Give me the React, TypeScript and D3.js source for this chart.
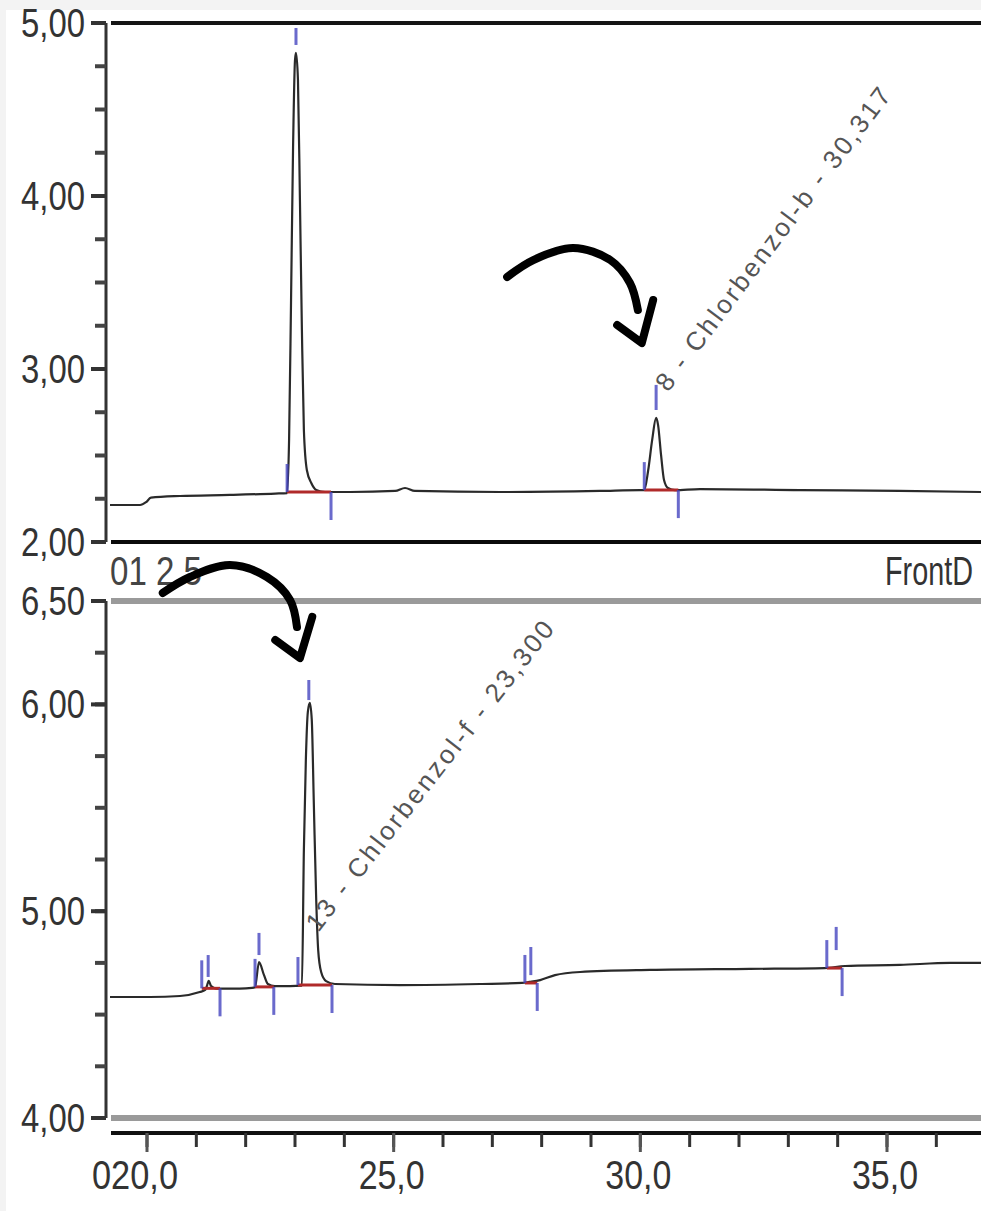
import React from 'react';
import * as d3 from 'd3';

const W = 981;
const H = 1211;

// upper run: retention time (min) and detector signal
const topTime = [19.25, 19.86, 19.98, 20.08, 20.67, 21.68, 22.6, 22.84, 22.88, 22.92, 22.96, 23.0, 23.02, 23.06, 23.1, 23.14, 23.18, 23.24, 23.33, 23.43, 23.61, 24.12, 25.03, 25.23, 25.43, 27.16, 29.18, 30.0, 30.08, 30.16, 30.24, 30.32, 30.36, 30.42, 30.48, 30.56, 30.7, 31.21, 33.24, 35.26, 36.91];
const topSignal = [2.214, 2.214, 2.23, 2.256, 2.266, 2.272, 2.28, 2.283, 2.59, 3.399, 4.266, 4.786, 4.827, 4.671, 3.977, 3.225, 2.647, 2.416, 2.341, 2.301, 2.289, 2.289, 2.295, 2.312, 2.295, 2.289, 2.295, 2.3, 2.3, 2.416, 2.59, 2.717, 2.676, 2.503, 2.358, 2.312, 2.3, 2.306, 2.3, 2.295, 2.289];

// lower run
const bottomTime = [19.25, 20.06, 20.67, 21.07, 21.18, 21.22, 21.25, 21.3, 21.4, 21.88, 22.13, 22.19, 22.27, 22.37, 22.45, 22.59, 22.9, 23.14, 23.18, 23.22, 23.26, 23.3, 23.34, 23.38, 23.43, 23.47, 23.53, 23.63, 23.81, 25.13, 26.75, 27.6, 27.75, 27.97, 28.27, 28.78, 30.2, 32.22, 33.74, 34.15, 35.26, 36.28, 36.91];
const bottomSignal = [4.585, 4.585, 4.59, 4.609, 4.619, 4.643, 4.663, 4.638, 4.626, 4.626, 4.629, 4.632, 4.754, 4.692, 4.648, 4.638, 4.638, 4.64, 5.296, 5.731, 5.963, 6.007, 5.925, 5.538, 5.054, 4.812, 4.706, 4.662, 4.648, 4.643, 4.648, 4.653, 4.658, 4.667, 4.691, 4.706, 4.716, 4.721, 4.725, 4.735, 4.74, 4.75, 4.75];

// integration marks
const topPeakStart = [22.84, 30.08];
const topPeakApex = [23.02, 30.32];
const topPeakEnd = [23.73, 30.77];
const topPeakBase = [2.289, 2.3];
const topApexLo = [4.873, 2.763];
const topApexHi = [4.971, 2.908];

const bottomPeakStart = [21.11, 22.19, 23.06, 27.66, 33.78];
const bottomPeakApex = [21.24, 22.27, 23.28, 27.78, 33.97];
const bottomPeakEnd = [21.48, 22.57, 23.75, 27.91, 34.09];
const bottomPeakBase = [4.627, 4.634, 4.643, 4.653, 4.725];
const bottomApexLo = [4.682, 4.788, 6.021, 4.691, 4.812];
const bottomApexHi = [4.788, 4.895, 6.118, 4.827, 4.924];

// peak names
const topLabel = '8 - Chlorbenzol-b - 30,317';
const topLabelAt = [30.56, 2.861];
const bottomLabel = '13 - Chlorbenzol-f - 23,300';
const bottomLabelAt = [23.47, 4.895];

// hand drawn arrows (time, signal)
const arrowTopShaft = [[27.3, 3.532], [27.83, 3.63], [28.64, 3.699], [29.39, 3.63], [29.79, 3.497], [29.95, 3.341]];
const arrowTopHead = [[29.53, 3.254], [30.03, 3.15], [30.26, 3.399]];
const arrowBottomShaft = [[20.32, 6.539], [20.87, 6.616], [21.68, 6.674], [22.43, 6.616], [22.9, 6.505], [23.04, 6.374]];
const arrowBottomHead = [[22.6, 6.311], [23.1, 6.224], [23.35, 6.423]];

// axes
const xMajor = [20, 25, 30, 35];
const xMajorLabels = ['020,0', '25,0', '30,0', '35,0'];
const xMinor = d3.range(20, 37);
const topYLabels = [5, 4, 3, 2];
const topYText = ['5,00', '4,00', '3,00', '2,00'];
const bottomYLabels = [6.5, 6, 5, 4];
const bottomYText = ['6,50', '6,00', '5,00', '4,00'];

const font = '"Liberation Sans", Arial, sans-serif';
const blue = '#4646c0';
const red = '#b02a2a';

const x = d3.scaleLinear().domain([20, 35]).range([147, 887]);
const yTop = d3.scaleLinear().domain([2, 5]).range([542, 23]);
const yBot = d3.scaleLinear().domain([4, 6.5]).range([1118, 601]);

const trace = (y: d3.ScaleLinear<number, number>) =>
  d3.line<number[]>().x(d => x(d[0])).y(d => y(d[1])).curve(d3.curveMonotoneX);
const arrowLine = (y: d3.ScaleLinear<number, number>) =>
  d3.line<number[]>().x(d => x(d[0])).y(d => y(d[1])).curve(d3.curveCatmullRom);

function Marks({ y, start, apex, end, base, lo, hi }: any) {
  return (
    <g>
      {start.map((s: number, i: number) => {
        const yb = y(base[i]);
        return (
          <g key={i}>
            <line x1={x(s)} x2={x(end[i])} y1={yb} y2={yb} stroke={red} strokeWidth={3} />
            <line x1={x(s)} x2={x(s)} y1={yb} y2={yb - 28} stroke={blue} strokeWidth={3} opacity={0.8} />
            <line x1={x(end[i])} x2={x(end[i])} y1={yb} y2={yb + 28} stroke={blue} strokeWidth={3} opacity={0.8} />
            <line x1={x(apex[i])} x2={x(apex[i])} y1={y(lo[i])} y2={y(hi[i])} stroke={blue} strokeWidth={3} opacity={0.8} />
          </g>
        );
      })}
    </g>
  );
}

function YAxis({ y, domain, labels, texts }: any) {
  const minor = d3.range(domain[0], domain[1] + 0.001, 0.25);
  return (
    <g>
      <line x1={106} x2={106} y1={y(domain[1])} y2={y(domain[0])} stroke="#333" strokeWidth={3} />
      {minor.map((v: number) => (
        <line key={v} x1={95} x2={106} y1={y(v)} y2={y(v)} stroke="#444" strokeWidth={4} />
      ))}
      {labels.map((v: number, i: number) => (
        <g key={v}>
          <line x1={91} x2={106} y1={y(v)} y2={y(v)} stroke="#333" strokeWidth={4} />
          <text x={85} y={y(v) + 14} textAnchor="end" fontSize={41} fontFamily={font} fill="#333"
            textLength={64} lengthAdjust="spacingAndGlyphs">{texts[i]}</text>
        </g>
      ))}
    </g>
  );
}

export default function App() {
  const topPts = topTime.map((t, i) => [t, topSignal[i]]);
  const botPts = bottomTime.map((t, i) => [t, bottomSignal[i]]);
  const axisY = 1133;

  return (
    <svg width={W} height={H} style={{ position: 'absolute', left: 0, top: 0 }}>
      <rect width={W} height={H} fill="#f3f3f3" />
      <rect x={6} y={10} width={W - 6} height={H - 10} fill="#fff" />

      {/* upper panel frame */}
      <line x1={111} x2={W} y1={yTop(5)} y2={yTop(5)} stroke="#151515" strokeWidth={4} />
      <line x1={111} x2={W} y1={yTop(2)} y2={yTop(2)} stroke="#0a0a0a" strokeWidth={4} />
      <YAxis y={yTop} domain={[2, 5]} labels={topYLabels} texts={topYText} />

      {/* lower panel frame */}
      <line x1={111} x2={W} y1={yBot(6.5)} y2={yBot(6.5)} stroke="#9a9a9a" strokeWidth={6} />
      <line x1={111} x2={W} y1={yBot(4)} y2={yBot(4)} stroke="#9a9a9a" strokeWidth={6} />
      <YAxis y={yBot} domain={[4, 6.5]} labels={bottomYLabels} texts={bottomYText} />

      <text x={110} y={585} fontSize={41} fontFamily={font} fill="#444" textLength={92} lengthAdjust="spacingAndGlyphs">01 2 5</text>
      <text x={885} y={585} fontSize={41} fontFamily={font} fill="#333" textLength={88} lengthAdjust="spacingAndGlyphs">FrontD</text>

      {/* x axis */}
      <line x1={111} x2={W} y1={axisY} y2={axisY} stroke="#111" strokeWidth={4} />
      {xMinor.map(t => (
        <line key={t} x1={x(t)} x2={x(t)} y1={axisY} y2={axisY + 14} stroke="#333" strokeWidth={3} />
      ))}
      {xMajor.map((t, i) => (
        <g key={t}>
          <line x1={x(t)} x2={x(t)} y1={axisY} y2={axisY + 19} stroke="#555" strokeWidth={3} />
          <text x={x(t) - (i === 0 ? 12 : 2)} y={1189} textAnchor="middle" fontSize={41} fontFamily={font} fill="#333"
            textLength={i === 0 ? 86 : 66} lengthAdjust="spacingAndGlyphs">{xMajorLabels[i]}</text>
        </g>
      ))}

      {/* traces */}
      <path d={trace(yTop)(topPts) || ''} fill="none" stroke="#2a2a2a" strokeWidth={2.2} />
      <path d={trace(yBot)(botPts) || ''} fill="none" stroke="#2a2a2a" strokeWidth={2.2} />

      <Marks y={yTop} start={topPeakStart} apex={topPeakApex} end={topPeakEnd} base={topPeakBase} lo={topApexLo} hi={topApexHi} />
      <Marks y={yBot} start={bottomPeakStart} apex={bottomPeakApex} end={bottomPeakEnd} base={bottomPeakBase} lo={bottomApexLo} hi={bottomApexHi} />

      {/* peak names */}
      <text transform={`translate(${x(topLabelAt[0])},${yTop(topLabelAt[1])}) rotate(-53)`} fontSize={26} fontFamily={font}
        fill="#555" textLength={372} lengthAdjust="spacing">{topLabel}</text>
      <text transform={`translate(${x(bottomLabelAt[0])},${yBot(bottomLabelAt[1])}) rotate(-52)`} fontSize={26} fontFamily={font}
        fill="#555" textLength={385} lengthAdjust="spacing">{bottomLabel}</text>

      {/* arrows */}
      <g fill="none" stroke="#000" strokeWidth={8} strokeLinecap="round" strokeLinejoin="round">
        <path d={arrowLine(yTop)(arrowTopShaft) || ''} />
        <path d={d3.line<number[]>().x(d => x(d[0])).y(d => yTop(d[1]))(arrowTopHead) || ''} />
        <path d={arrowLine(yBot)(arrowBottomShaft) || ''} />
        <path d={d3.line<number[]>().x(d => x(d[0])).y(d => yBot(d[1]))(arrowBottomHead) || ''} />
      </g>
    </svg>
  );
}
